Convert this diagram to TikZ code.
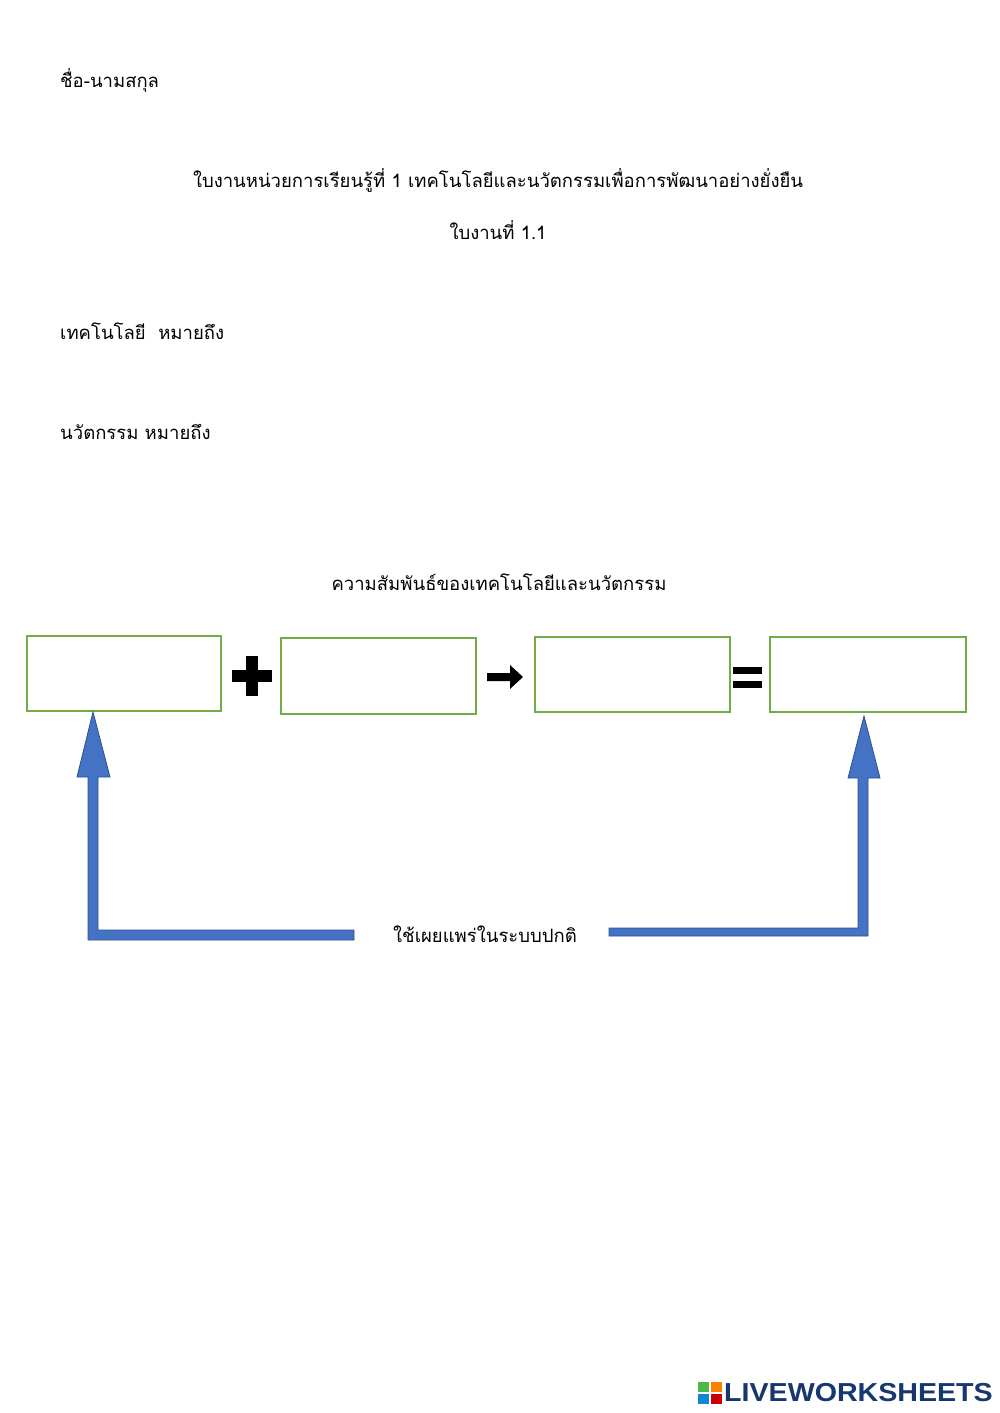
\documentclass[tikz,border=0pt]{standalone}
\usepackage{fontspec}
\newfontfamily\thaifont[Script=Thai]{Loma}
\newfontfamily\logofont{Liberation Sans}
\definecolor{boxgreen}{RGB}{112,173,71}
\definecolor{arrblue}{RGB}{68,114,196}
\definecolor{arrdark}{RGB}{47,82,143}
\definecolor{logoblue}{RGB}{22,56,110}
\begin{document}
\begin{tikzpicture}[x=1pt,y=-1pt,
  txt/.style={font=\thaifont\fontsize{18.5}{20}\selectfont,inner sep=0pt},
  box/.style={draw=boxgreen,line width=1.5pt},
  barr/.style={fill=arrblue,draw=arrdark,line width=0.8pt}]
\useasboundingbox[fill=white] (0,0) rectangle (1000,1413);
\node[txt,anchor=west] (name) at (60,80) {ชื่อ-นามสกุล};
\node[txt] (title) at (498,180) {ใบงานหน่วยการเรียนรู้ที่ 1 เทคโนโลยีและนวัตกรรมเพื่อการพัฒนาอย่างยั่งยืน};
\node[txt] (sheet) at (498,230) {ใบงานที่ 1.1};
\node[txt,anchor=west] (tech) at (60,331) {เทคโนโลยี\ \ หมายถึง};
\node[txt,anchor=west] (inno) at (60,432) {นวัตกรรม หมายถึง};
\node[txt] (rel) at (499,582) {ความสัมพันธ์ของเทคโนโลยีและนวัตกรรม};
\draw[box] (27,636) rectangle (221,711);
\draw[box] (281,638) rectangle (476,714);
\draw[box] (535,637) rectangle (730,712);
\draw[box] (770,637) rectangle (966,712);
% plus
\fill (232,670) rectangle (272,682);
\fill (246,656) rectangle (258,696);
% arrow
\fill (487,673) -- (510,673) -- (510,665) -- (523,677) -- (510,689) -- (510,681) -- (487,681) -- cycle;
% equals
\fill (733,667) rectangle (762,674);
\fill (733,681) rectangle (762,688);
% blue arrows
\draw[barr] (93,712) -- (110,777) -- (98,777) -- (98,930) -- (354,930) -- (354,940) -- (88,940) -- (88,777) -- (77,777) -- cycle;
\draw[barr] (864,716) -- (880,778) -- (868,778) -- (868,936) -- (609,936) -- (609,928) -- (858,928) -- (858,778) -- (848,778) -- cycle;
\node[txt] (use) at (485,934) {ใช้เผยแพร่ในระบบปกติ};
% logo
\fill[green!60!black!70] (698,1382) rectangle (709,1392);
\fill[orange] (711,1382) rectangle (722,1392);
\fill[cyan!70!blue] (698,1394) rectangle (709,1404);
\fill[red!80!black] (711,1394) rectangle (722,1404);
\node[font=\logofont\bfseries\fontsize{26}{26}\selectfont,text=logoblue,anchor=west,inner sep=0pt,xscale=1.1] (logo) at (724,1393) {LIVEWORKSHEETS};
\end{tikzpicture}
\end{document}
